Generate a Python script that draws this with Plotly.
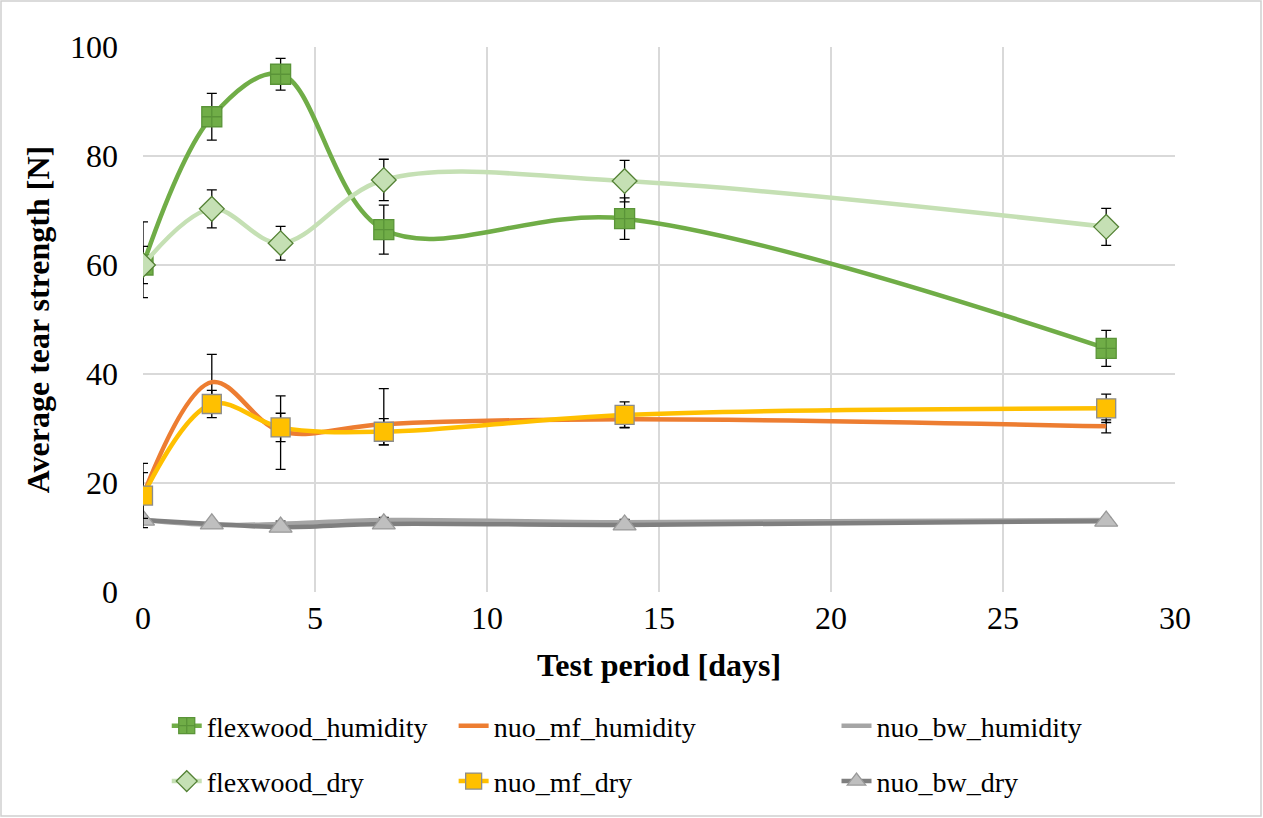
import plotly.graph_objects as go

days = [0, 2, 4, 7, 14, 28]

flexwood_humidity = [60.0, 87.2, 95.0, 66.5, 68.5, 44.7]
flexwood_humidity_err_plus = [7.9, 4.3, 2.9, 4.5, 3.8, 3.3]
flexwood_humidity_err_minus = [6.0, 4.3, 2.9, 4.5, 3.8, 3.3]

flexwood_dry = [60.0, 70.3, 64.0, 75.6, 75.4, 67.0]
flexwood_dry_err = [3.4, 3.5, 3.1, 3.8, 3.8, 3.4]

nuo_mf_humidity = [17.7, 38.5, 29.5, 30.8, 31.7, 30.4]
nuo_mf_humidity_err_plus = [5.9, 5.1, 6.5, 6.5, 1.5, 1.2]
nuo_mf_humidity_err_minus = [5.9, 5.1, 7.0, 3.8, 1.5, 1.2]

nuo_mf_dry = [17.7, 34.5, 30.2, 29.4, 32.5, 33.7]
nuo_mf_dry_err = [4.2, 2.5, 2.6, 2.4, 2.4, 2.6]

nuo_bw_humidity = [13.2, 12.3, 12.5, 13.2, 12.8, 13.2]
nuo_bw_humidity_err = [0.6, 0.5, 0.5, 0.5, 0.5, 0.5]

nuo_bw_dry = [13.2, 12.5, 11.9, 12.5, 12.3, 13.0]
nuo_bw_dry_err = [0.8, 0.6, 0.5, 0.5, 0.5, 0.5]

FONT = "Liberation Serif, Times New Roman, serif"

def err(plus, minus=None):
    d = dict(type="data", array=plus, color="black", thickness=1.3, width=5, visible=True)
    if minus is not None:
        d["symmetric"] = False
        d["arrayminus"] = minus
    return d

fig = go.Figure()

fig.add_trace(go.Scatter(
    x=days, y=nuo_bw_humidity, name="nuo_bw_humidity", mode="lines",
    line=dict(color="#A5A5A5", width=4.5, shape="spline", smoothing=1.0),
    error_y=err(nuo_bw_humidity_err), legend="legend3", legendgroup="g5"))
fig.add_trace(go.Scatter(
    x=days, y=nuo_bw_dry, name="nuo_bw_dry", mode="lines+markers",
    line=dict(color="#7F7F7F", width=4.5, shape="spline", smoothing=1.0),
    marker=dict(symbol="triangle-up", size=20, color="#BFBFBF", line=dict(color="#999999", width=1.3)),
    error_y=err(nuo_bw_dry_err), legend="legend3", legendgroup="g6"))
fig.add_trace(go.Scatter(
    x=days, y=nuo_mf_humidity, name="nuo_mf_humidity", mode="lines",
    line=dict(color="#ED7D31", width=4.5, shape="spline", smoothing=1.0),
    error_y=err(nuo_mf_humidity_err_plus, nuo_mf_humidity_err_minus), legend="legend2", legendgroup="g3"))
fig.add_trace(go.Scatter(
    x=days, y=nuo_mf_dry, name="nuo_mf_dry", mode="lines+markers",
    line=dict(color="#FFC000", width=4.5, shape="spline", smoothing=1.0),
    marker=dict(symbol="square", size=19, color="#FFC000", line=dict(color="#8C8C8C", width=1.3)),
    error_y=err(nuo_mf_dry_err), legend="legend2", legendgroup="g4"))
fig.add_trace(go.Scatter(
    x=days, y=flexwood_humidity, name="flexwood_humidity", mode="lines+markers",
    line=dict(color="#70AD47", width=4.5, shape="spline", smoothing=1.0),
    marker=dict(symbol="square-cross", size=20, color="#70AD47", line=dict(color="#5A9438", width=1.3)),
    error_y=err(flexwood_humidity_err_plus, flexwood_humidity_err_minus), legend="legend", legendgroup="g1"))
fig.add_trace(go.Scatter(
    x=days, y=flexwood_dry, name="flexwood_dry", mode="lines+markers",
    line=dict(color="#C5E0B4", width=4.5, shape="spline", smoothing=1.0),
    marker=dict(symbol="diamond", size=19, color="#C5E0B4", line=dict(color="#548235", width=1.3)),
    error_y=err(flexwood_dry_err), legend="legend", legendgroup="g2"))

leg_common = dict(orientation="v", yanchor="top", xanchor="left", y=-0.2,
                  font=dict(family=FONT, size=28, color="black"),
                  bgcolor="rgba(0,0,0,0)", tracegroupgap=16, traceorder="grouped")

fig.update_layout(
    width=1263, height=818,
    margin=dict(l=143, r=88, t=47, b=226),
    paper_bgcolor="white", plot_bgcolor="white",
    font=dict(family=FONT, color="black"),
    showlegend=True,
    legend=dict(x=0.023, **leg_common),
    legend2=dict(x=0.301, **leg_common),
    legend3=dict(x=0.672, **leg_common),
    xaxis=dict(range=[0, 30], dtick=5, tick0=0,
               showgrid=True, gridcolor="#D9D9D9", gridwidth=2,
               zeroline=False, showline=False, ticks="", ticklabelstandoff=4,
               tickfont=dict(family=FONT, size=32, color="black"),
               title=dict(text="<b>Test period [days]</b>", font=dict(family=FONT, size=32, color="black"), standoff=18)),
    yaxis=dict(range=[0, 100], dtick=20, tick0=0,
               showgrid=True, gridcolor="#D9D9D9", gridwidth=2,
               zeroline=False, showline=False, ticks="", ticklabelstandoff=24,
               tickfont=dict(family=FONT, size=32, color="black"),
               title=dict(text="<b>Average tear strength [N]</b>", font=dict(family=FONT, size=32, color="black"), standoff=10)),
)

fig.add_shape(type="rect", xref="paper", yref="paper",
              x0=(1 - 143) / 1032, x1=(1261 - 143) / 1032,
              y0=(592 - 816) / 545, y1=(592 - 1) / 545,
              line=dict(color="#D0D0D0", width=1.5), fillcolor="rgba(0,0,0,0)", layer="below")

fig.write_html("out.html", config={"displayModeBar": False},
               post_script="document.body.style.margin='0';document.body.style.overflow='hidden';")
